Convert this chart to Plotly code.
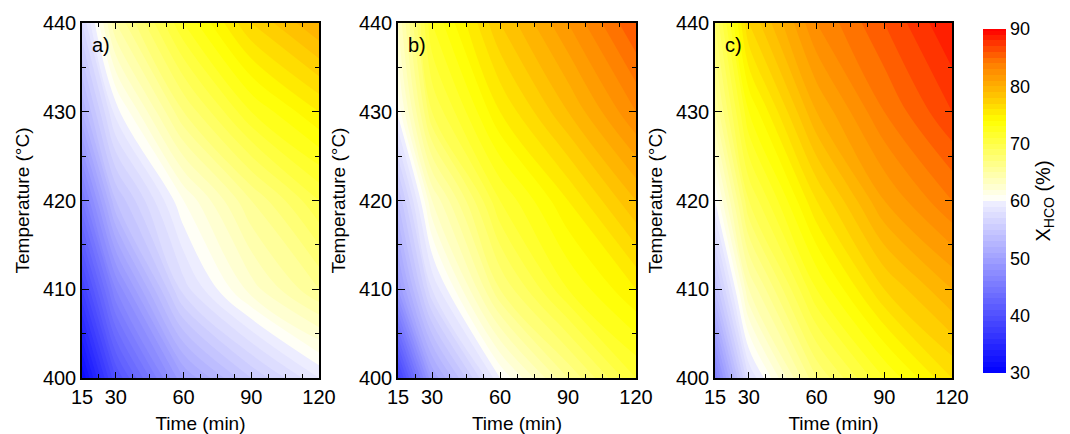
import plotly.graph_objects as go

times = [15, 30, 60, 90, 120]
temps = [400, 410, 420, 430, 440]

# X_HCO (%) rows = temps (400..440), cols = times
panel_a = [
    [31, 40, 50, 55, 59],
    [38, 47, 57.5, 62.5, 66],
    [45, 54, 61, 66, 70],
    [52, 59.5, 67, 72, 75],
    [57, 65, 72, 77, 80],
]
panel_b = [
    [38, 50, 60, 66, 71],
    [49, 58, 67, 72, 75],
    [54, 63, 71, 75, 79],
    [60.3, 69, 75, 79, 83],
    [63, 72, 78, 82, 86],
]
panel_c = [
    [46, 58, 67, 72, 76],
    [54, 64, 72, 77, 80],
    [60, 69, 76, 81, 84],
    [65, 73, 80, 84, 87],
    [68, 77, 83, 86, 89],
]
panels = [panel_a, panel_b, panel_c]
labels = ["a)", "b)", "c)"]
x_ticks = [15, 30, 60, 90, 120]
y_ticks = [400, 410, 420, 430, 440]
cb_ticks = [30, 40, 50, 60, 70, 80, 90]

zmin, zmax = 30, 90
def n(v):
    return (v - zmin) / (zmax - zmin)

colorscale = [
    [0.0, "rgb(0,0,255)"],
    [n(59.9), "rgb(240,240,255)"],
    [n(60), "rgb(255,255,255)"],
    [n(74), "rgb(255,255,0)"],
    [n(78), "rgb(255,200,0)"],
    [n(84), "rgb(255,125,0)"],
    [1.0, "rgb(255,0,0)"],
]

FONT = "Liberation Sans, Arial, sans-serif"
fig = go.Figure()

xdomains = [(82/1070, 319/1070), (398/1070, 636/1070), (715/1070, 952/1070)]
ydom = (1 - 378/434, 1 - 23/434)

for i, z in enumerate(panels):
    xa = "x" if i == 0 else f"x{i+1}"
    ya = "y" if i == 0 else f"y{i+1}"
    fig.add_trace(go.Contour(
        x=times, y=temps, z=z, xaxis=xa, yaxis=ya,
        zmin=zmin, zmax=zmax, autocontour=False,
        contours=dict(start=30, end=90, size=1, coloring="fill", showlines=False),
        line=dict(width=0),
        colorscale=colorscale,
        showscale=(i == 0),
        colorbar=dict(
            x=983/1070, xanchor="left", thickness=23, xpad=0, ypad=0,
            y=1 - 201/434, yanchor="middle", len=344/434, lenmode="fraction",
            outlinewidth=0, tickvals=cb_ticks, ticks="", ticklabelposition="outside",
            tickfont=dict(family=FONT, size=18, color="black"),
            title=dict(text="X<sub>HCO</sub> (%)", side="right",
                       font=dict(family=FONT, size=20, color="black")),
        ),
        hoverinfo="skip",
    ))
    axkey = "xaxis" if i == 0 else f"xaxis{i+1}"
    aykey = "yaxis" if i == 0 else f"yaxis{i+1}"
    fig.layout[axkey] = dict(
        domain=list(xdomains[i]), anchor=ya, range=[15, 120],
        tickmode="array", tickvals=x_ticks, ticks="inside", ticklen=6,
        tickwidth=1.2, tickcolor="black", mirror="allticks",
        showline=True, linecolor="black", linewidth=1.5, showgrid=False,
        zeroline=False,
        minor=dict(tick0=15, dtick=7.5, ticks="inside", ticklen=4,
                   tickcolor="black", tickwidth=1, showgrid=False),
        tickfont=dict(family=FONT, size=20, color="black"),
        title=dict(text="Time (min)", standoff=11,
                   font=dict(family=FONT, size=19, color="black")),
        automargin=False,
    )
    fig.layout[aykey] = dict(
        domain=list(ydom), anchor=xa, range=[400, 440],
        tickmode="array", tickvals=y_ticks, ticks="inside", ticklen=7,
        tickwidth=1.2, tickcolor="black", mirror="allticks",
        showline=True, linecolor="black", linewidth=1.5, showgrid=False,
        zeroline=False,
        minor=dict(tick0=400, dtick=5, ticks="inside", ticklen=4,
                   tickcolor="black", tickwidth=1, showgrid=False),
        tickfont=dict(family=FONT, size=20, color="black"),
        title=dict(text="Temperature (°C)", standoff=8,
                   font=dict(family=FONT, size=19, color="black")),
        automargin=False,
    )
    fig.add_annotation(
        xref=f"{xa} domain", yref=f"{ya} domain", x=0.035, y=0.975,
        xanchor="left", yanchor="top", text=labels[i], showarrow=False,
        font=dict(family=FONT, size=20, color="black"),
    )

fig.update_layout(
    width=1070, height=434,
    margin=dict(l=0, r=0, t=0, b=0),
    paper_bgcolor="white", plot_bgcolor="white",
    showlegend=False,
)
fig.write_html("out.html")
